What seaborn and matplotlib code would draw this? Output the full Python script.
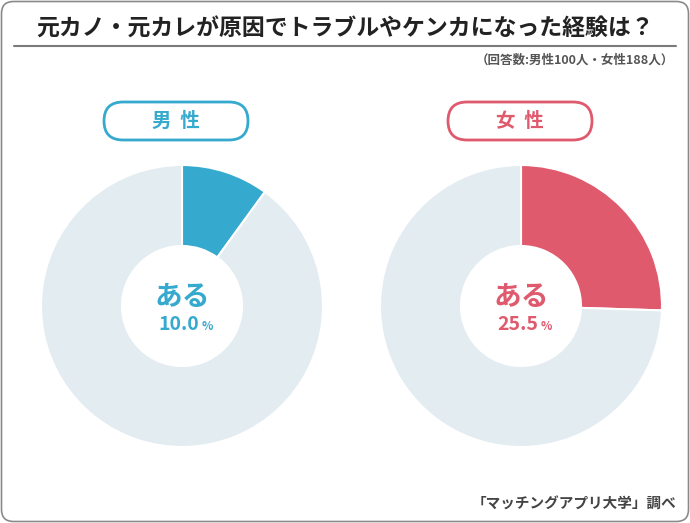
import matplotlib
matplotlib.use("Agg")
import matplotlib.pyplot as plt
from matplotlib.patches import FancyBboxPatch
import seaborn as sns

sns.set_style("white")
plt.rcParams["font.family"] = ["Noto Sans CJK JP", "DejaVu Sans"]

# データ
groups = ["男 性", "女 性"]
aru_pct = [10.0, 25.5]
colors = ["#35A9CE", "#E05A6E"]
rest_color = "#E3ECF1"
title = "元カノ・元カレが原因でトラブルやケンカになった経験は？"
note = "（回答数:男性100人・女性188人）"
source = "「マッチングアプリ大学」調べ"

W, H = 690, 523
fig = plt.figure(figsize=(W / 100, H / 100), dpi=100)
bg = fig.add_axes([0, 0, 1, 1])
bg.set_xlim(0, W)
bg.set_ylim(H, 0)
bg.axis("off")

# 外枠
bg.add_patch(FancyBboxPatch((1.5, 1.5), W - 3, H - 3,
                            boxstyle="round,pad=0,rounding_size=12",
                            fc="white", ec="#8a8a8a", lw=1.2))
bg.text(W / 2, 29, title, ha="center", va="center", fontsize=16.5,
        fontweight="bold", color="#222222")
bg.plot([14, 676], [46, 46], color="#7a7a7a", lw=1.5)
bg.text(674, 60, note, ha="right", va="center", fontsize=9,
        fontweight="bold", color="#555555")
bg.text(676, 504, source, ha="right", va="center", fontsize=10.5,
        fontweight="bold", color="#444444")

centers = [(182, 306), (521, 306)]
pills = [176, 520]
R, r_in = 141, 60

for i, (grp, val) in enumerate(zip(groups, aru_pct)):
    c = colors[i]
    px = pills[i]
    bg.add_patch(FancyBboxPatch((px - 72, 102), 144, 38,
                                boxstyle="round,pad=0,rounding_size=19",
                                fc="white", ec=c, lw=2))
    bg.text(px, 121, grp.replace(" ", "  "), ha="center", va="center",
            fontsize=14, fontweight="bold", color=c)

    cx, cy = centers[i]
    ax = fig.add_axes([(cx - R) / W, (H - cy - R) / H, 2 * R / W, 2 * R / H])
    ax.pie([val, 100 - val], colors=[c, rest_color], startangle=90,
           counterclock=False, radius=1,
           wedgeprops=dict(width=1 - r_in / R, edgecolor="white", linewidth=1.5))
    ax.set_xlim(-1, 1)
    ax.set_ylim(-1, 1)
    ax.set_aspect("equal")
    ax.axis("off")

    bg.text(cx, 297, "ある", ha="center", va="center", fontsize=20,
            fontweight="bold", color=c)
    bg.text(cx + 17, 325, f"{val:.1f}", ha="right", va="center",
            fontsize=14, fontweight="bold", color=c)
    bg.text(cx + 20, 327, "%", ha="left", va="center", fontsize=8.5,
            fontweight="bold", color=c)

fig.savefig("out.png", dpi=100)
